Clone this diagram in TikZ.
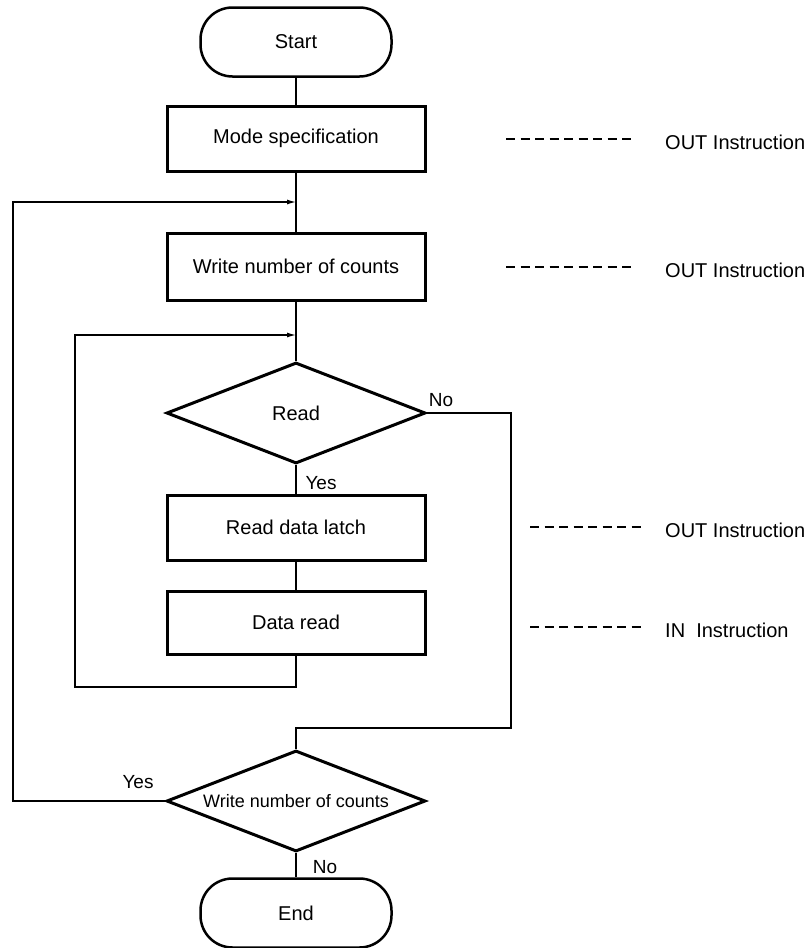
\documentclass[tikz,border=0pt]{standalone}
\usepackage{fontspec}
\setmainfont{Liberation Sans}
\usetikzlibrary{shapes.geometric,arrows.meta}
\begin{document}
\begin{tikzpicture}[x=1pt,y=-1pt,
  proc/.style={draw,line width=3pt,minimum width=258pt,inner sep=0pt,font=\fontsize{20}{24}\selectfont},
  term/.style={draw,line width=2.5pt,rounded corners=32pt,minimum width=191pt,minimum height=69pt,inner sep=0pt,font=\fontsize{20}{24}\selectfont},
  decide/.style={draw,diamond,line width=3pt,shape aspect=2.6,inner sep=0pt,minimum width=259pt,minimum height=101pt,font=\fontsize{20}{24}\selectfont},
  conn/.style={line width=1.2pt},
  arr/.style={conn,-{Latex[length=9pt,width=5pt]}},
  dashline/.style={line width=1.5pt,dash pattern=on 9pt off 5.5pt},
  lab/.style={inner sep=0pt,font=\fontsize{19}{22}\selectfont},
  note/.style={anchor=west,inner sep=0pt,font=\fontsize{20}{24}\selectfont}]
\useasboundingbox (0,0) rectangle (811,948);

% main nodes
\node[term] (start) at (296,42) {Start};
\node[proc,minimum height=65pt] (mode) at (296,138.5) {Mode specification};
\node[proc,minimum height=67pt] (write) at (296,266.5) {Write number of counts};
\node[decide] (read) at (296,413) {Read};
\node[proc,minimum height=65pt] (latch) at (296,527.5) {Read data latch};
\node[proc,minimum height=63pt] (dread) at (296,622.5) {Data read};
\node[decide,font=\fontsize{18}{21}\selectfont] (check) at (296,801) {Write number of counts};
\node[term] (end) at (296,913) {End};

% junctions and corners
\coordinate (j1) at (296,202);
\coordinate (j2) at (296,335);
\coordinate (oc) at (13,202);
\coordinate (ic) at (75,687);
\coordinate (rc) at (511,728);

% main flow
\draw[conn] (start.south) -- (mode.north);
\draw[conn] (mode.south) -- (write.north);
\draw[conn] (write.south) -- (read.north);
\draw[conn] (read.south) -- (latch.north);
\draw[conn] (latch.south) -- (dread.north);
\draw[conn] (check.south) -- (end.north);

% loops
\draw[arr] (check.west) -| (oc) -- (j1);
\draw[arr] (dread.south) |- (ic) |- (j2);
\draw[conn] (read.east) -| (rc) -| (check.north);

% branch labels
\node[lab] (no1) at (441,400) {No};
\node[lab] (yes1) at (321,483) {Yes};
\node[lab] (yes2) at (138,782) {Yes};
\node[lab] (no2) at (325,867) {No};

% instruction notes
\node[note] (n1) at (665,142) {OUT Instruction};
\node[note] (n2) at (665,270) {OUT Instruction};
\node[note] (n3) at (665,530) {OUT Instruction};
\node[note] (n4) at (665,630) {IN\ \ Instruction};
\coordinate (d1a) at (506,139); \coordinate (d1b) at (634,139);
\coordinate (d2a) at (506,267); \coordinate (d2b) at (634,267);
\coordinate (d3a) at (530,527); \coordinate (d3b) at (644,527);
\coordinate (d4a) at (530,627); \coordinate (d4b) at (644,627);
\draw[dashline] (d1a) -- (d1b);
\draw[dashline] (d2a) -- (d2b);
\draw[dashline] (d3a) -- (d3b);
\draw[dashline] (d4a) -- (d4b);
\end{tikzpicture}
\end{document}
